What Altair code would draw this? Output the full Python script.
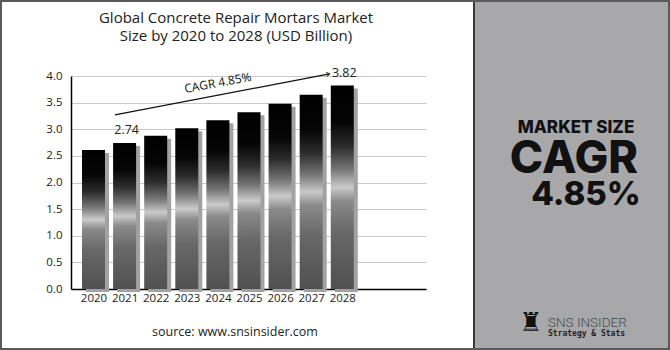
import altair as alt
import pandas as pd

# ---------------- data ----------------
years = [2020, 2021, 2022, 2023, 2024, 2025, 2026, 2027, 2028]
values = [2.61, 2.74, 2.88, 3.02, 3.17, 3.32, 3.48, 3.65, 3.82]
label_years = [2021, 2028]
label_values = [2.74, 3.82]
y_ticks = [0.0, 0.5, 1.0, 1.5, 2.0, 2.5, 3.0, 3.5, 4.0]
arrow_start = (2020.69, 3.27)
arrow_end = (2027.59, 4.04)
cagr_label = ["CAGR  4.85%"]
cagr_pos = (2024.0, 3.87)
title_lines = ["Global Concrete Repair Mortars Market", "Size by 2020 to 2028 (USD Billion)"]
source_text = ["source: www.snsinsider.com"]
panel_lines = ["MARKET SIZE", "CAGR", "4.85%"]
logo_texts = ["SNS INSIDER", "Strategy & Stats"]

# ---------------- layout (pixels) ----------------
W, H = 355, 213          # plot area
PL, PT = 71, 76          # plot origin in the 670x350 page
PR, PB = 670 - PL - W, 350 - PT - H

df = pd.DataFrame({"year": years, "value": values})
lab = pd.DataFrame({"year": label_years, "value": label_values})
arrow_df = pd.DataFrame({"year": [arrow_start[0]], "value": [arrow_start[1]],
                         "year2": [arrow_end[0]], "value2": [arrow_end[1]]})
cagr_df = pd.DataFrame({"year": [cagr_pos[0]], "value": [cagr_pos[1]], "t": cagr_label})

x_scale = alt.Scale(domain=[2019.4375, 2019.4375 + W / 32], nice=False, zero=False)
y_scale = alt.Scale(domain=[0, 4], nice=False)

FONT = "Open Sans"

x_axis = alt.Axis(values=years, format="d", title=None, grid=False, ticks=False,
                  domainColor="#000", domainWidth=1.5, labelFontSize=11.5,
                  labelColor="#222", labelPadding=3, labelFont=FONT, labelOverlap=False)
y_axis = alt.Axis(values=y_ticks, format=".1f", title=None, ticks=False, tickCount=9,
                  domainColor="#000", domainWidth=1.5, gridColor="#c9c9c9",
                  labelFontSize=11.5, labelColor="#222", labelPadding=9,
                  labelFont=FONT, labelOverlap=False)


def X(field="year"):
    return alt.X(f"{field}:Q", scale=x_scale, axis=x_axis)


def Y(field="value"):
    return alt.Y(f"{field}:Q", scale=y_scale, axis=y_axis)


gradient = alt.LinearGradient(
    gradient="linear", x1=0, y1=0, x2=0, y2=1,
    stops=[
        alt.GradientStop(color="#000000", offset=0),
        alt.GradientStop(color="#050505", offset=0.18),
        alt.GradientStop(color="#2c2c2c", offset=0.30),
        alt.GradientStop(color="#747474", offset=0.41),
        alt.GradientStop(color="#cacaca", offset=0.50),
        alt.GradientStop(color="#8a8a8a", offset=0.57),
        alt.GradientStop(color="#686868", offset=0.72),
        alt.GradientStop(color="#505050", offset=1),
    ],
)

base = alt.Chart(df)

shadow = base.mark_bar(width=23, color="#a2a2a2", xOffset=4, yOffset=3).encode(x=X(), y=Y())
bars = base.mark_bar(width=23, color=gradient).encode(x=X(), y=Y())

labels = alt.Chart(lab).mark_text(fontSize=12.5, font=FONT, color="#222", dy=-13, dx=2,
                                  baseline="middle").encode(
    x=X(), y=Y(), text=alt.Text("value:Q", format=".2f"))

arrow_line = alt.Chart(arrow_df).mark_rule(color="#111", strokeWidth=1.3).encode(
    x=X(), y=Y(), x2="year2:Q", y2="value2:Q")
arrow_head = alt.Chart(arrow_df).mark_point(
    shape="M -1 -0.7 L 0 0 L -1 0.7", filled=False, stroke="#111", strokeWidth=1.3,
    size=40, angle=349.5).encode(x=X("year2"), y=Y("value2"))

cagr_text = alt.Chart(cagr_df).mark_text(fontSize=12, font=FONT, color="#111", angle=349.5,
                                         align="center", baseline="middle").encode(
    x=X(), y=Y(), text="t:N")


def px_text(text, px, py, **kw):
    d = pd.DataFrame({"t": [text]})
    return alt.Chart(d).mark_text(**kw).encode(
        x=alt.value(px - PL), y=alt.value(py - PT), text="t:N")


def px_rect(x1, y1, x2, y2, **kw):
    d = pd.DataFrame({"a": [0]})
    return alt.Chart(d).mark_rect(**kw).encode(
        x=alt.value(x1 - PL), x2=alt.value(x2 - PL),
        y=alt.value(y1 - PT), y2=alt.value(y2 - PT))


panel = px_rect(474, 0, 670, 350, color="#a8a8ab")
panel_edge = px_rect(473, 0, 475, 350, color="#3a3a3a")
frame = px_rect(1, 1, 669, 349, filled=False, stroke="#5a5a5a", strokeWidth=2)

title1 = px_text(title_lines[0], 236, 23, fontSize=15, font=FONT, color="#222", align="center",
                 baseline="alphabetic")
title2 = px_text(title_lines[1], 236, 41, fontSize=15, font=FONT, color="#222", align="center",
                 baseline="alphabetic")
source = px_text(source_text[0], 235, 336, fontSize=12.5, font=FONT, color="#222", align="center",
                 baseline="alphabetic")

ms = px_text(panel_lines[0], 576, 133, fontSize=17, font="Inter", fontWeight=800, color="#111",
             align="center", baseline="alphabetic")
cg = px_text(panel_lines[1], 574, 173, fontSize=45, font="Inter", fontWeight=800, color="#111",
             align="center", baseline="alphabetic")
pc = px_text(panel_lines[2], 586, 205, fontSize=33, font="Inter", fontWeight=800, color="#111",
             align="center", baseline="alphabetic")

rook = px_text("\u265c", 531, 331, fontSize=26, font="DejaVu Sans", color="#111", align="center",
               baseline="alphabetic")
sns = px_text(logo_texts[0], 548, 327, fontSize=13.5, font="Roboto", fontWeight=300, color="#4a4a4a",
              align="left", baseline="alphabetic")
strat = px_text(logo_texts[1], 548, 336, fontSize=8, font="DejaVu Sans Mono", fontWeight="bold",
                color="#222", align="left", baseline="alphabetic")

chart = alt.layer(
    panel, panel_edge, frame,
    shadow, bars, labels, arrow_line, arrow_head, cagr_text,
    title1, title2, source, ms, cg, pc, rook, sns, strat,
).properties(
    width=W, height=H,
    autosize=alt.AutoSizeParams(type="none"),
    padding={"left": PL, "top": PT, "right": PR, "bottom": PB},
    background="white",
).configure_view(stroke=None)

chart.save("out.html", embed_options={"renderer": "svg", "actions": False})
